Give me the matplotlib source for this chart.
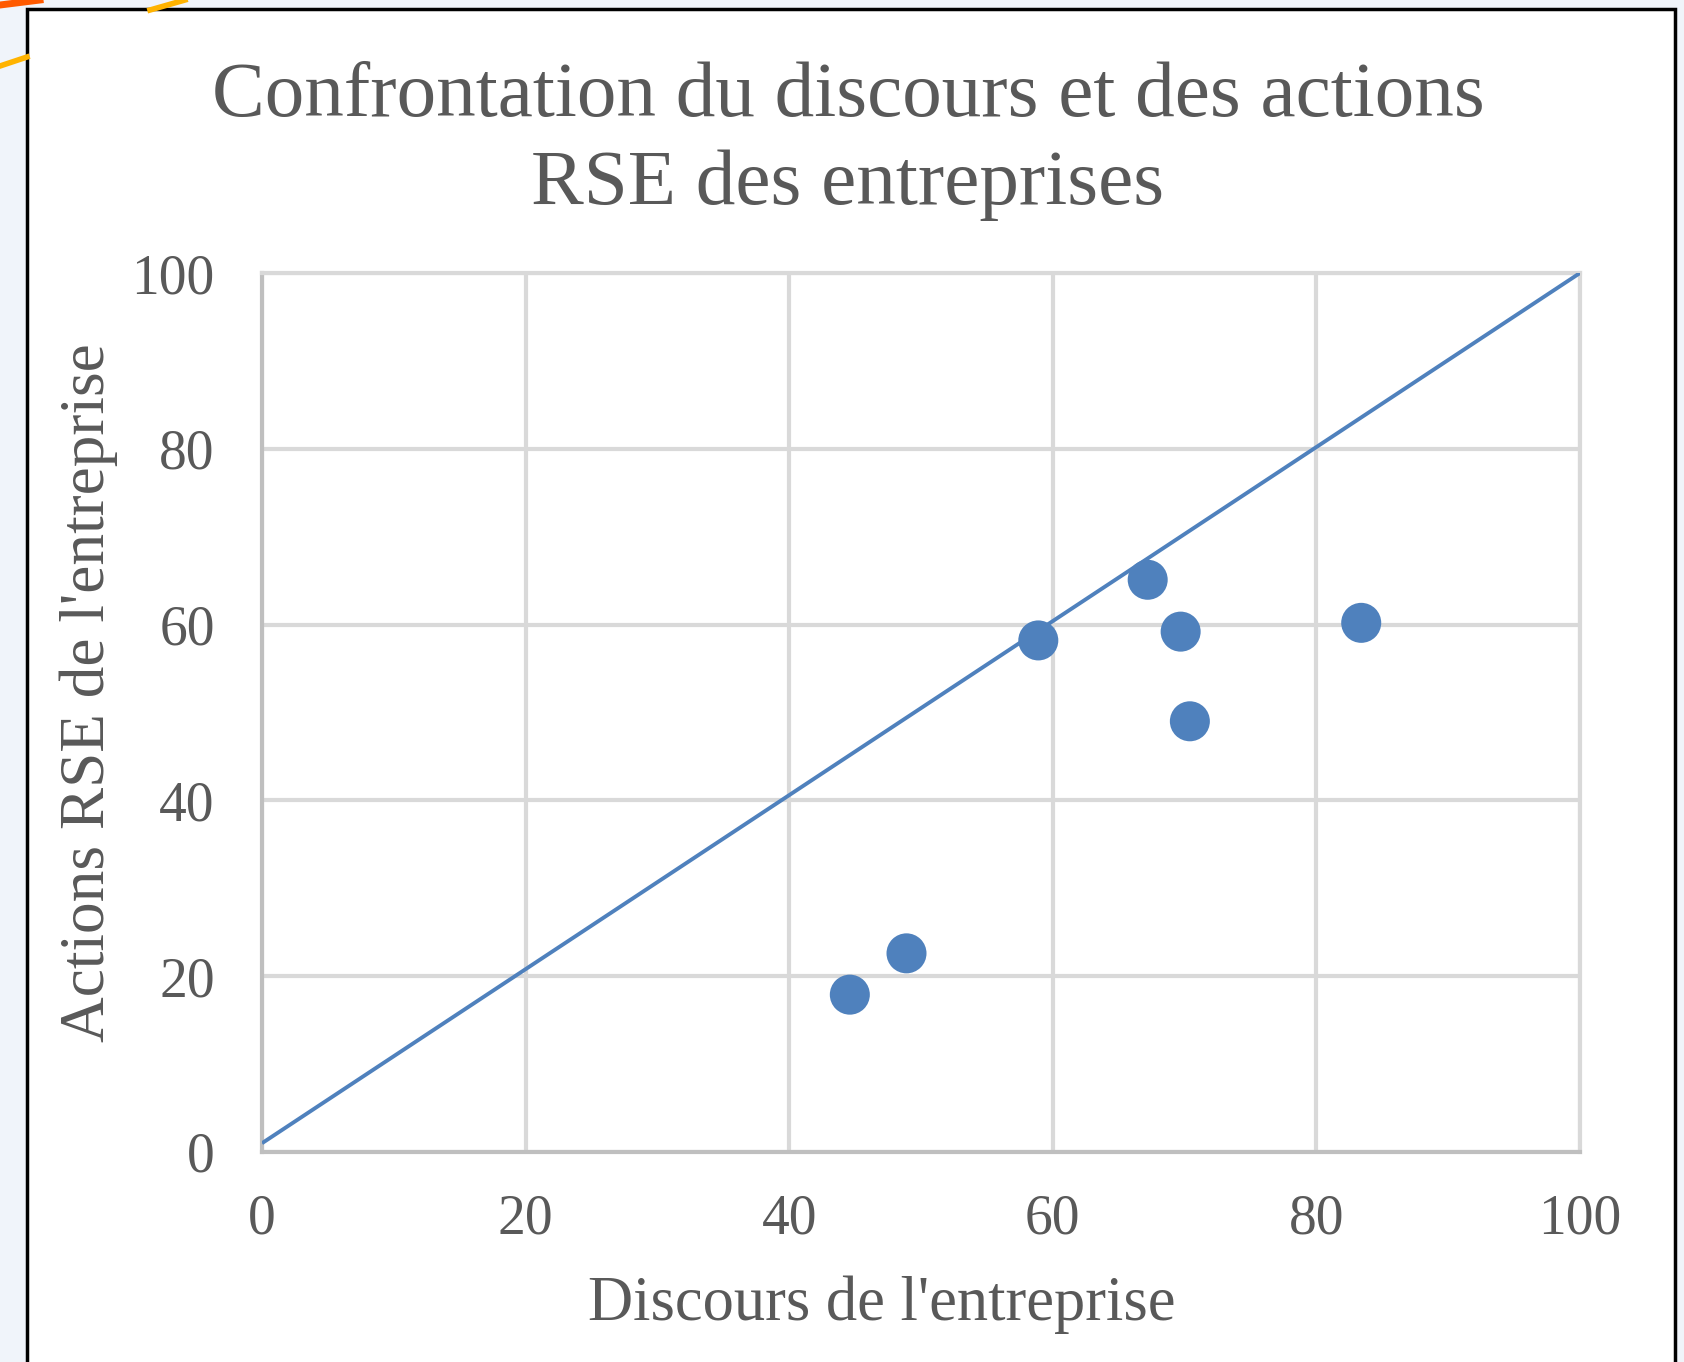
import matplotlib
matplotlib.use("Agg")
import matplotlib.pyplot as plt
from matplotlib.patches import Rectangle
from matplotlib.lines import Line2D

# discourse score vs CSR actions score, per company
discours = [44.6, 48.9, 58.9, 67.2, 69.7, 70.4, 83.4]
actions = [17.9, 22.6, 58.2, 65.1, 59.2, 49.0, 60.2]

# reference line
ref_x = [0, 100]
ref_y = [1, 100]

ticks = [0, 20, 40, 60, 80, 100]

blue = "#4F81BD"
txt = "#595959"
grid_col = "#D9D9D9"
axis_col = "#BFBFBF"

plt.rcParams["font.family"] = ["Liberation Serif", "DejaVu Serif"]

fig = plt.figure(figsize=(16.84, 13.62), dpi=100)
fig.patch.set_facecolor("#F0F4FA")

# white card with black frame (screenshot border)
card = Rectangle((27 / 1684, -0.05), (1675 - 27) / 1684, 1.05 - 9 / 1362,
                 transform=fig.transFigure, facecolor="white",
                 edgecolor="black", linewidth=2.5, zorder=-2)
fig.add_artist(card)

# bits of orange decoration peeking out at the top-left corner
fig.add_artist(Line2D([0, 27 / 1684], [1 - 66 / 1362, 1 - 57 / 1362],
                      transform=fig.transFigure, color="#FFB300", lw=4, zorder=-1))
fig.add_artist(Line2D([150 / 1684, 185 / 1684], [1 - 10 / 1362, 1.0],
                      transform=fig.transFigure, color="#FFB300", lw=4, zorder=-1))
fig.add_artist(Line2D([0, 40 / 1684], [1 - 5 / 1362, 1.0],
                      transform=fig.transFigure, color="#FF5A00", lw=5, zorder=-1))

ax = fig.add_axes([262 / 1684, 210 / 1362, 1318 / 1684, 879 / 1362])
ax.set_zorder(1)
ax.set_facecolor("white")

ax.plot(ref_x, ref_y, color=blue, lw=2.8, zorder=3, solid_capstyle="butt")
ax.scatter(discours, actions, s=830, color=blue, edgecolors="none", zorder=4)

ax.set_xlim(0, 100)
ax.set_ylim(0, 100)
ax.set_xticks(ticks)
ax.set_yticks(ticks)
ax.grid(True, color=grid_col, lw=3)
ax.set_axisbelow(True)

for side in ["top", "right"]:
    ax.spines[side].set_color(grid_col)
    ax.spines[side].set_linewidth(3)
for side in ["left", "bottom"]:
    ax.spines[side].set_color(axis_col)
    ax.spines[side].set_linewidth(3)

ax.tick_params(length=0, labelsize=40, labelcolor=txt)
ax.tick_params(axis="x", pad=30)
ax.tick_params(axis="y", pad=34)

ax.set_xlabel("Discours de l'entreprise", fontsize=45, color=txt)
ax.xaxis.set_label_coords(0.47, -0.141)
ax.set_ylabel("Actions RSE de l'entreprise", fontsize=45.5, color=txt)
ax.yaxis.set_label_coords(-0.109, 0.523)

fig.text(848 / 1684, 1 - 141 / 1362,
         "Confrontation du discours et des actions\nRSE des entreprises",
         ha="center", va="center", fontsize=57, color=txt, linespacing=1.3)

fig.savefig("out.png", dpi=100, facecolor=fig.get_facecolor())
